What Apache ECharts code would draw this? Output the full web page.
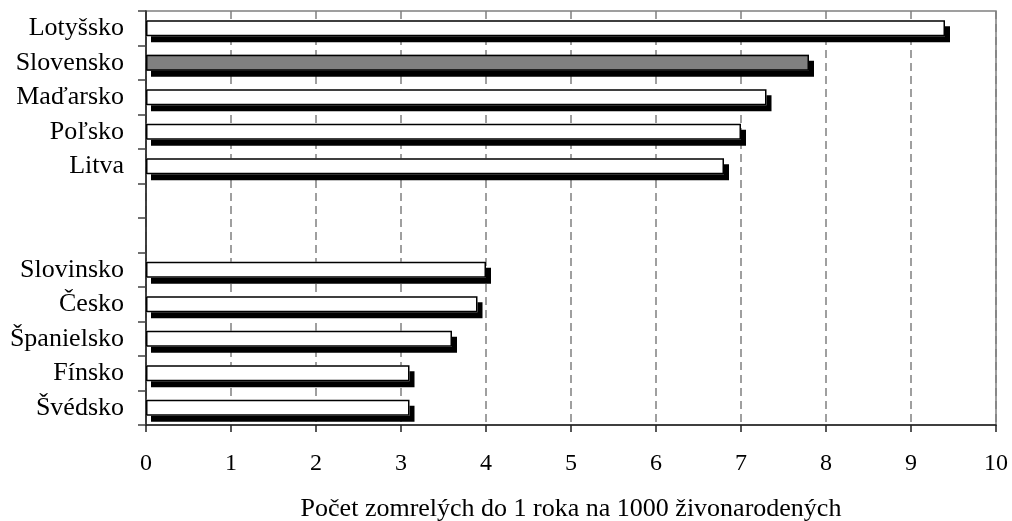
<!DOCTYPE html>
<html>
<head>
<meta charset="utf-8">
<script src="https://cdn.jsdelivr.net/npm/echarts@6/dist/echarts.min.js"></script>
<style>
html,body{margin:0;padding:0;background:#fff;}
#c{width:1012px;height:521px;}
</style>
</head>
<body>
<div id="c"></div>
<script>
const categories = ['Lotyšsko','Slovensko','Maďarsko','Poľsko','Litva','',' ','Slovinsko','Česko','Španielsko','Fínsko','Švédsko'];
const values = [9.4, 7.8, 7.3, 7.0, 6.8, null, null, 4.0, 3.9, 3.6, 3.1, 3.1];
const highlighted = 'Slovensko';
const xTicks = [0,1,2,3,4,5,6,7,8,9,10];
const xAxisTitle = 'Počet zomrelých do 1 roka na 1000 živonarodených';

const font = '"Liberation Serif", "Times New Roman", serif';
const chart = echarts.init(document.getElementById('c'));
chart.setOption({
  animation: false,
  backgroundColor: '#fff',
  grid: {left: 146, right: 16, top: 11, bottom: 96, show: true, borderColor: '#808080', borderWidth: 1.5,
         containLabel: false, outerBoundsMode: 'none'},
  xAxis: {
    type: 'value', min: 0, max: 10, interval: 1,
    axisLine: {show: true, lineStyle: {color: '#202020', width: 1.5}},
    axisTick: {show: true, length: 7, lineStyle: {color: '#202020', width: 1.5}},
    axisLabel: {margin: 27, fontFamily: font, fontSize: 24, color: '#000',
      formatter: v => xTicks.includes(v) ? String(v) : ''},
    splitLine: {show: true, lineStyle: {color: '#808080', type: [8,5], width: 1.5}},
    name: xAxisTitle, nameLocation: 'middle', nameGap: 71,
    nameTextStyle: {fontFamily: font, fontSize: 26, color: '#000'}
  },
  yAxis: {
    type: 'category', data: categories, inverse: true,
    axisLine: {show: true, lineStyle: {color: '#202020', width: 1.5}},
    axisTick: {show: true, length: 8, interval: 0, lineStyle: {color: '#404040', width: 1.5}},
    axisLabel: {interval: 0, hideOverlap: false, margin: 22, fontFamily: font, fontSize: 26, color: '#000', padding: [3, 0, 0, 0]},
    splitLine: {show: false}
  },
  series: [{
    // fill with drop shadow
    type: 'bar',
    barWidth: 16,
    barGap: '-100%',
    data: values.map((v, i) => ({
      value: v,
      itemStyle: {color: categories[i] === highlighted ? '#808080' : '#ffffff'}
    })),
    itemStyle: {
      borderWidth: 0,
      shadowColor: '#000', shadowBlur: 0, shadowOffsetX: 5, shadowOffsetY: 6
    },
    emphasis: {disabled: true}
  }, {
    // outline on top, no shadow
    type: 'bar',
    barWidth: 16,
    barGap: '-100%',
    data: values,
    itemStyle: {color: 'rgba(0,0,0,0)', borderColor: '#000', borderWidth: 1.5},
    emphasis: {disabled: true}
  }]
});
</script>
</body>
</html>
